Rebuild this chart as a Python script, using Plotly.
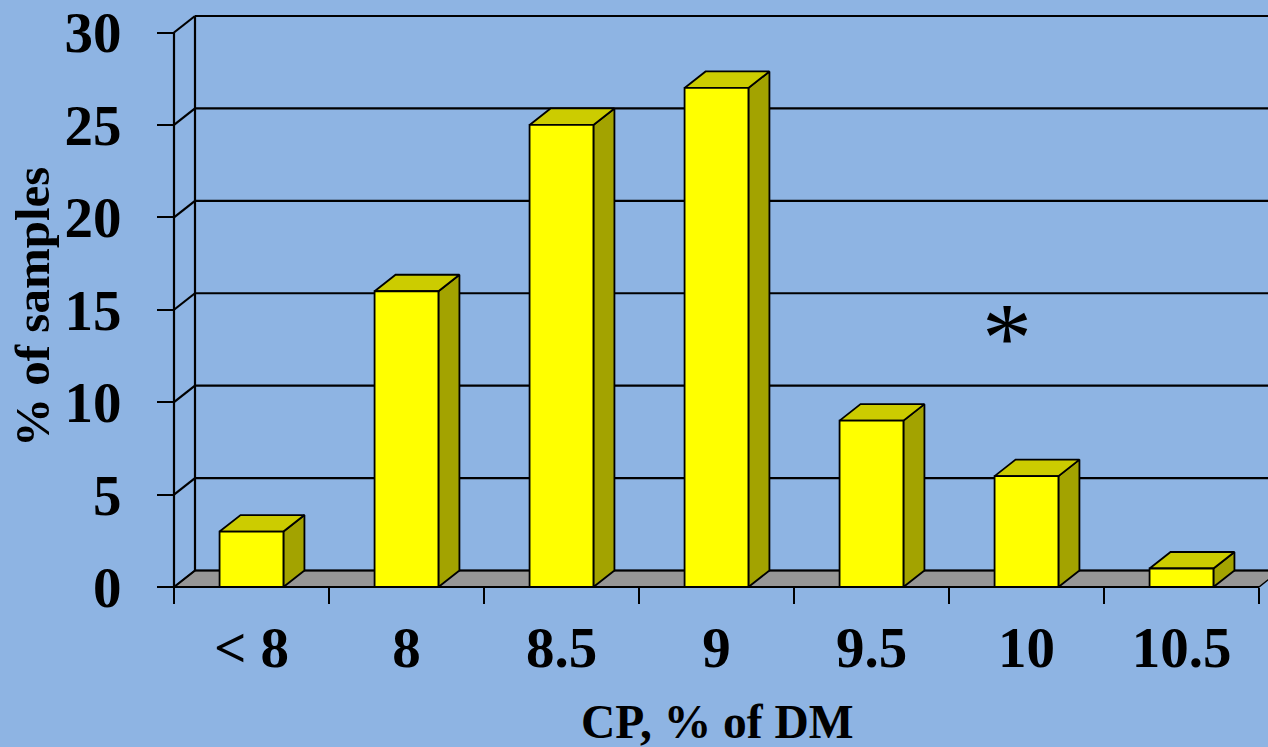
import plotly.graph_objects as go

# Crude protein distribution of samples
categories = ["< 8", "8", "8.5", "9", "9.5", "10", "10.5"]
pct_samples = [3, 16, 25, 27, 9, 6, 1]
y_ticks = [0, 5, 10, 15, 20, 25, 30]

# pseudo-3D geometry (data units)
DX = 0.1355      # depth offset along x
DY = 0.893       # depth offset along y
HALF_W = 0.206   # half width of each column
N = len(categories)
Y_TOP = max(y_ticks)

BG = "#8EB4E3"
FRONT = "#FFFF00"
TOP = "#CCCC00"
SIDE = "#A3A300"
FLOOR = "#969696"
FONT = "Liberation Serif"

fig = go.Figure()


def poly_trace(polys, fill, width=1.8):
    xs, ys = [], []
    for p in polys:
        for (x, y) in p + [p[0]]:
            xs.append(x)
            ys.append(y)
        xs.append(None)
        ys.append(None)
    return go.Scatter(x=xs, y=ys, mode="lines", fill="toself" if fill else "none",
                      fillcolor=fill, line=dict(color="black", width=width),
                      hoverinfo="skip", showlegend=False)


def line_trace(xs, ys, width=2):
    return go.Scatter(x=xs, y=ys, mode="lines", line=dict(color="black", width=width),
                      hoverinfo="skip", showlegend=False)


# floor
fig.add_trace(poly_trace([[(0, 0), (N, 0), (N + DX, DY), (DX, DY)]], FLOOR, width=1.4))

# back wall gridlines and left wall diagonals
gx, gy = [], []
for v in y_ticks:
    gx += [DX, N + 1, None]
    gy += [v + DY, v + DY, None]
    gx += [0, DX, None]
    gy += [v, v + DY, None]
fig.add_trace(line_trace(gx, gy, width=2.2))
# left wall verticals
fig.add_trace(line_trace([0, 0, None, DX, DX], [0, Y_TOP, None, DY, Y_TOP + DY], width=2.2))
# front floor edge
fig.add_trace(line_trace([0, N], [0, 0], width=2))

# columns
sides, tops, fronts = [], [], []
for i, v in enumerate(pct_samples):
    c = i + 0.5
    x0, x1 = c - HALF_W, c + HALF_W
    sides.append([(x1, 0), (x1 + DX, DY), (x1 + DX, v + DY), (x1, v)])
    tops.append([(x0, v), (x1, v), (x1 + DX, v + DY), (x0 + DX, v + DY)])
    fronts.append([(x0, 0), (x1, 0), (x1, v), (x0, v)])
fig.add_trace(poly_trace(sides, SIDE))
fig.add_trace(poly_trace(tops, TOP))
fig.add_trace(poly_trace(fronts, FRONT))

# plot area pixels: x 150..1268, y 0..607
L, B = 150, 140
fig.update_layout(
    width=1268, height=747,
    margin=dict(l=L, r=0, t=0, b=B),
    paper_bgcolor=BG, plot_bgcolor=BG,
    font=dict(family=FONT, color="black"),
    showlegend=False,
    xaxis=dict(
        range=[(150 - 174) / 155, (1268 - 174) / 155],
        anchor="free", position=(607 - 587) / 607,
        tickvals=[i + 0.5 for i in range(N)], ticktext=categories,
        ticks="", showgrid=False, zeroline=False, showline=False,
        tickfont=dict(family=FONT, size=57, color="black"),
        ticklabelstandoff=22,
        minor=dict(tickvals=list(range(N + 1)), ticks="outside", ticklen=16,
                   tickwidth=2, tickcolor="black", showgrid=False),
    ),
    yaxis=dict(
        range=[(587 - 607) / 18.483, 587 / 18.483],
        anchor="free", position=(174 - 150) / 1118,
        tickvals=y_ticks, ticks="outside", ticklen=17, tickwidth=2, tickcolor="black",
        showgrid=False, zeroline=False, showline=False,
        tickfont=dict(family=FONT, size=57, color="black"),
        ticklabelstandoff=24,
    ),
    annotations=[
        dict(text="<b>% of samples</b>", xref="paper", yref="paper",
             x=(32 - 150) / 1118, y=(607 - 307) / 607, textangle=-90,
             xanchor="center", yanchor="middle",
             showarrow=False, font=dict(family=FONT, size=49, color="black")),
        dict(text="<b>CP, % of DM</b>", xref="paper", yref="paper",
             x=(717 - 150) / 1118, y=(607 - 722) / 607,
             xanchor="center", yanchor="middle",
             showarrow=False, font=dict(family=FONT, size=47.5, color="black")),
        dict(text="*", x=(1007 - 174) / 155, y=(587 - 337) / 18.483,
             xref="x", yref="y", xanchor="center", yanchor="middle", showarrow=False,
             font=dict(family=FONT, size=100, color="black")),
    ],
)
fig.update_xaxes(tickfont_weight="bold")
fig.update_yaxes(tickfont_weight="bold")

fig.write_html("out.html")
